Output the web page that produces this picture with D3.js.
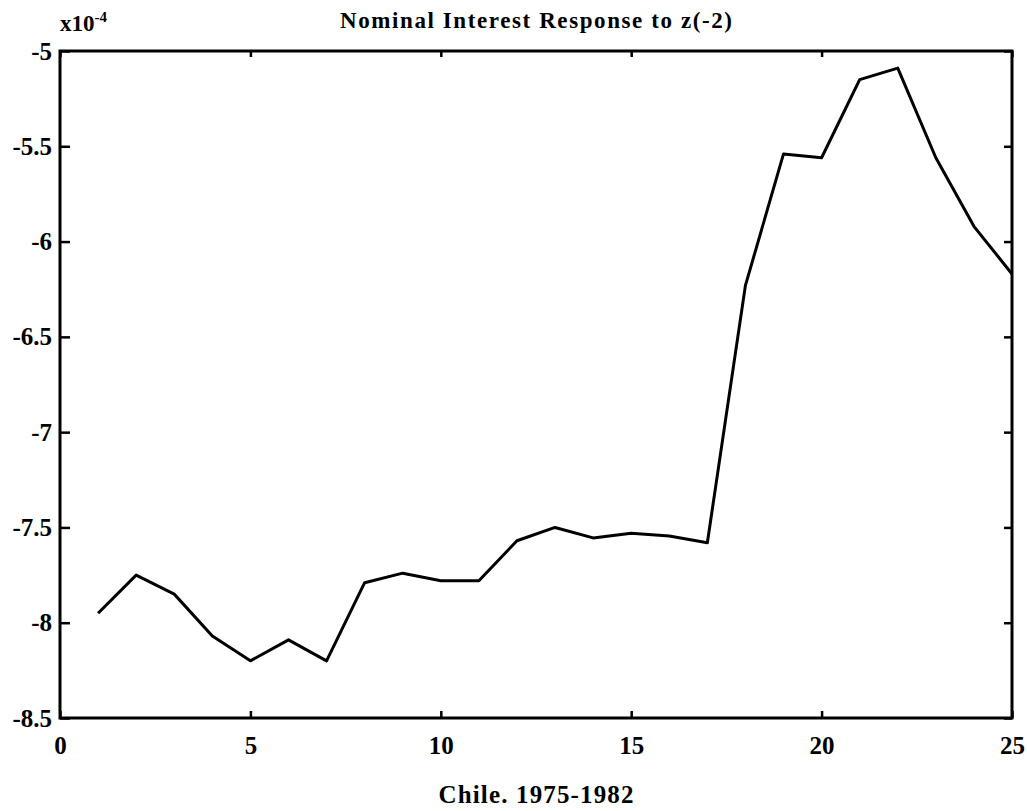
<!DOCTYPE html>
<html>
<head>
<meta charset="utf-8">
<script src="https://d3js.org/d3.v7.min.js"></script>
<style>
  body { margin: 0; background: #fff; }
  text { font-family: "Liberation Serif", "Times New Roman", serif; font-weight: bold; fill: #000; }
</style>
</head>
<body>
<div id="chart"></div>
<script>
// impulse response, values in units of 1e-4
var periods = d3.range(1, 26);
var response = [-7.95, -7.75, -7.85, -8.07, -8.20, -8.09, -8.20, -7.79, -7.74, -7.78,
                -7.78, -7.57, -7.50, -7.555, -7.53, -7.545, -7.58, -6.23, -5.54, -5.56,
                -5.15, -5.09, -5.56, -5.92, -6.17];
var xTicks = [0, 5, 10, 15, 20, 25];
var yTicks = [-8.5, -8, -7.5, -7, -6.5, -6, -5.5, -5];

var W = 1027, H = 811;
var margin = { top: 51, right: 15, bottom: 93, left: 60 };
var width = W - margin.left - margin.right,
    height = H - margin.top - margin.bottom;

var svg = d3.select("#chart").append("svg")
    .attr("width", W)
    .attr("height", H);

var g = svg.append("g")
    .attr("transform", "translate(" + margin.left + "," + margin.top + ")");

var x = d3.scaleLinear().domain([0, 25]).range([0, width]);
var y = d3.scaleLinear().domain([-8.5, -5]).range([height, 0]);

// ticks on all four sides, pointing inward
g.append("g")
    .attr("transform", "translate(0," + height + ")")
    .call(d3.axisBottom(x).tickValues(xTicks).tickSize(-7).tickPadding(18).tickFormat(d3.format("d")))
    .call(function (a) { a.select(".domain").remove(); });
g.append("g")
    .call(d3.axisTop(x).tickValues(xTicks).tickSize(-6).tickFormat(""))
    .call(function (a) { a.select(".domain").remove(); });
g.append("g")
    .call(d3.axisLeft(y).tickValues(yTicks).tickSize(-10).tickPadding(8).tickFormat(function (d) { return d; }))
    .call(function (a) { a.select(".domain").remove(); });
g.append("g")
    .attr("transform", "translate(" + width + ",0)")
    .call(d3.axisRight(y).tickValues(yTicks).tickSize(-8).tickFormat(""))
    .call(function (a) { a.select(".domain").remove(); });

g.selectAll(".tick line").attr("stroke", "#000").attr("stroke-width", 2.5);
g.selectAll(".tick text").style("font-size", "25px");

// frame
g.append("rect")
    .attr("width", width)
    .attr("height", height)
    .attr("fill", "none")
    .attr("stroke", "#000")
    .attr("stroke-width", 3);

var line = d3.line()
    .x(function (d, i) { return x(periods[i]); })
    .y(function (d) { return y(d); });

g.append("path")
    .datum(response)
    .attr("fill", "none")
    .attr("stroke", "#000")
    .attr("stroke-width", 3)
    .attr("stroke-linejoin", "round")
    .attr("d", line);

// title and labels
svg.append("text")
    .attr("x", margin.left + width / 2)
    .attr("y", 28)
    .attr("text-anchor", "middle")
    .attr("textLength", 392)
    .attr("lengthAdjust", "spacing")
    .style("font-size", "23px")
    .text("Nominal Interest Response to z(-2)");

var sc = svg.append("text")
    .attr("x", 60)
    .attr("y", 31)
    .style("font-size", "23px");
sc.append("tspan").text("x10");
sc.append("tspan").attr("dy", -9).style("font-size", "15px").text("-4");

svg.append("text")
    .attr("x", margin.left + width / 2)
    .attr("y", 803)
    .attr("text-anchor", "middle")
    .attr("textLength", 195)
    .attr("lengthAdjust", "spacing")
    .style("font-size", "25px")
    .text("Chile. 1975-1982");
</script>
</body>
</html>
